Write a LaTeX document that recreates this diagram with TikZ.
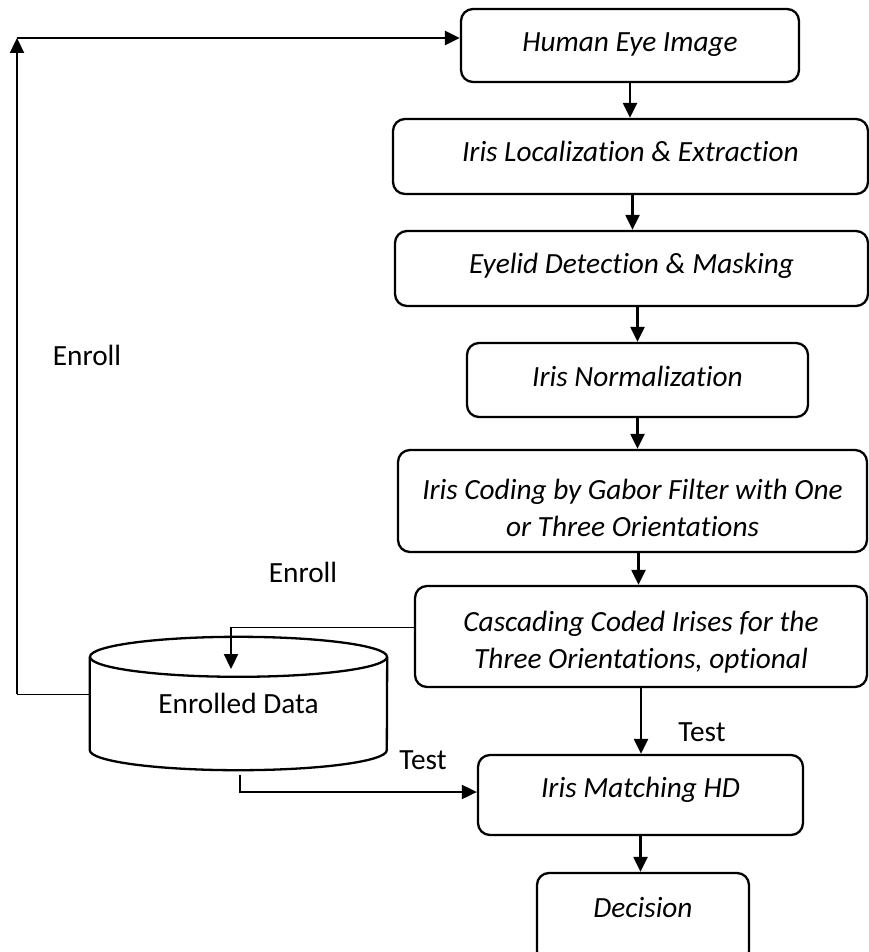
\documentclass[tikz,border=0pt]{standalone}
\usepackage{fontspec}
\setmainfont{Carlito}[Ligatures=NoCommon]
\usetikzlibrary{arrows.meta, positioning}

\begin{document}
\begin{tikzpicture}[x=1pt, y=-1pt,
    stage/.style={draw, line width=2.3pt, rounded corners=12pt, align=center,
      inner sep=0pt, text height=20pt, font=\itshape\fontsize{29.3}{37}\selectfont},
    flow/.style={line width=2.3pt, -{Triangle[length=15pt, width=14pt]}},
    tag/.style={font=\fontsize{29.3}{35}\selectfont}]
  \useasboundingbox (0,0) rectangle (869,952);
  \node[stage, minimum width=338, minimum height=73, text depth=7pt] (eye) at (630,45.5) {Human Eye Image};
  \node[stage, minimum width=475, minimum height=75, text depth=9pt] (loc) at (630.5,156.5) {Iris Localization \& Extraction};
  \node[stage, minimum width=473, minimum height=75, text depth=11pt] (lid) at (631.5,268.5) {Eyelid Detection \& Masking};
  \node[stage, minimum width=341, minimum height=74, text depth=8pt] (norm) at (637.5,380) {Iris Normalization};
  \node[stage, minimum width=469, minimum height=102, text height=75pt, text depth=5pt] (code) at (632.5,501) {Iris Coding by Gabor Filter with One\\ or Three Orientations};
  \node[stage, minimum width=452, minimum height=101, text height=70pt, text depth=7pt] (casc) at (641,636.5) {Cascading Coded Irises for the\\ Three Orientations, optional};
  \node[stage, minimum width=325, minimum height=80, text depth=16pt] (match) at (640.5,795) {Iris Matching HD};
  \node[stage, minimum width=212, minimum height=90, text depth=22pt] (dec) at (643,918) {Decision};

  \draw[flow] (eye.south) -- (eye.south |- loc.north);
  \draw[flow] ([xshift=2pt]loc.south) -- ([xshift=2pt]loc.south |- lid.north);
  \draw[flow] ([xshift=6pt]lid.south) -- ([xshift=6pt]lid.south |- norm.north);
  \draw[flow] (norm.south) -- (norm.south |- code.north);
  \draw[flow] ([xshift=6pt]code.south) -- ([xshift=6pt]code.south |- casc.north);
  \draw[flow] (casc.south) -- (casc.south |- match.north);
  \draw[flow] (match.south) -- (match.south |- dec.north);

  \node[tag, minimum width=297, minimum height=93, inner sep=0pt] (db) at (238.5,703.5) {Enrolled Data};
  \draw[line width=2.3pt] (db.north west) -- (db.south west)
    arc[start angle=180, end angle=360, x radius=148.5pt, y radius=20pt] -- (db.north east);
  \draw[line width=2.3pt, fill=white] (db.north) ellipse [x radius=148.5pt, y radius=20pt];

  \coordinate (loopB) at (17,694);
  \coordinate (loopT) at (17,38);
  \draw[line width=1pt] (db.west |- loopB) -- (loopB);
  \draw[flow] (loopB) -- (loopT);
  \draw[flow] (loopT) -- (loopT -| eye.west);

  \coordinate (enr) at (231,627);
  \coordinate (enrEnd) at (231,669);
  \draw[line width=0.9pt] (casc.west |- enr) -- (enr);
  \draw[flow] (enr) -- (enrEnd);

  \coordinate (tst) at (240,775);
  \draw[flow, line width=2pt] (tst) |- ([yshift=3pt]match.west);

  \node[tag] (enrollA) at (87,355) {Enroll};
  \node[tag] (enrollB) at (303,572) {Enroll};
  \node[tag] (testA) at (423,760) {Test};
  \node[tag] (testB) at (702,732) {Test};
\end{tikzpicture}
\end{document}
